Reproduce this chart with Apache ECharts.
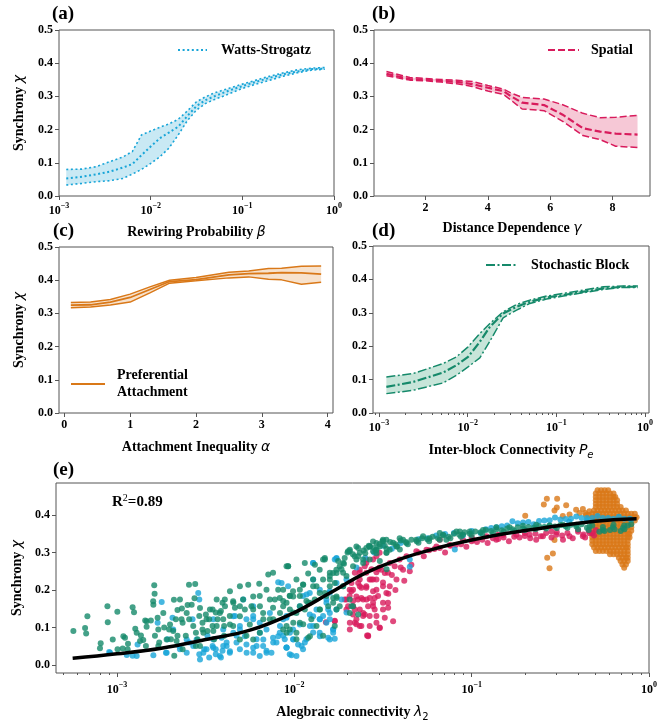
<!DOCTYPE html>
<html><head><meta charset="utf-8">
<script src="https://cdn.jsdelivr.net/npm/echarts@6/dist/echarts.min.js"></script>
<style>html,body{margin:0;padding:0;background:#fff}#c{width:667px;height:723px}</style>
</head><body><div id="c"></div>
<script>
// ================= DATA =================
// (a) Watts-Strogatz: rewiring probability beta vs synchrony
const wsBeta  = [0.00120,0.00178,0.00251,0.00355,0.00501,0.00631,0.00794,0.0100,0.0126,0.0158,0.0200,0.0251,0.0316,0.0398,0.0501,0.0708,0.100,0.141,0.200,0.282,0.398,0.562,0.794];
const wsMean  = [0.053,0.058,0.065,0.073,0.086,0.096,0.123,0.149,0.174,0.191,0.209,0.241,0.271,0.289,0.301,0.317,0.331,0.344,0.356,0.367,0.375,0.382,0.384];
const wsUpper = [0.080,0.081,0.088,0.103,0.118,0.134,0.184,0.196,0.207,0.217,0.231,0.256,0.284,0.299,0.311,0.324,0.337,0.349,0.361,0.371,0.380,0.385,0.387];
const wsLower = [0.033,0.038,0.043,0.046,0.053,0.066,0.080,0.098,0.118,0.144,0.184,0.227,0.259,0.279,0.291,0.307,0.324,0.337,0.349,0.361,0.371,0.379,0.382];

// (b) Spatial: distance dependence gamma
const spGamma = [0.75,1.5,2.0,2.5,3.0,3.5,4.0,4.5,4.75,5.1,5.8,6.4,7.05,7.6,8.1,8.8];
const spMean  = [0.368,0.352,0.350,0.347,0.344,0.337,0.326,0.316,0.300,0.281,0.274,0.245,0.204,0.194,0.188,0.185];
const spUpper = [0.375,0.357,0.354,0.351,0.349,0.345,0.333,0.322,0.310,0.297,0.292,0.275,0.249,0.236,0.237,0.243];
const spLower = [0.362,0.349,0.347,0.343,0.338,0.330,0.316,0.306,0.288,0.262,0.257,0.225,0.182,0.170,0.150,0.146];

// (c) Preferential attachment: attachment inequality alpha
const paAlpha = [0.1,0.4,0.7,1.0,1.3,1.6,2.0,2.5,2.8,3.1,3.3,3.6,3.9];
const paMean  = [0.325,0.326,0.334,0.348,0.372,0.396,0.402,0.416,0.420,0.421,0.423,0.422,0.418];
const paUpper = [0.333,0.334,0.342,0.358,0.380,0.400,0.408,0.424,0.428,0.435,0.436,0.442,0.443];
const paLower = [0.317,0.319,0.325,0.334,0.362,0.391,0.398,0.407,0.410,0.403,0.401,0.388,0.394];

// (d) Stochastic block: inter-block connectivity Pe
const sbPe    = [0.00121,0.00242,0.00528,0.00746,0.0101,0.0137,0.0178,0.0251,0.0356,0.0502,0.0774,0.120,0.201,0.338,0.569,0.832];
const sbMean  = [0.078,0.093,0.121,0.143,0.168,0.213,0.258,0.298,0.318,0.333,0.346,0.353,0.363,0.373,0.378,0.378];
const sbUpper = [0.108,0.118,0.148,0.168,0.198,0.238,0.268,0.303,0.325,0.338,0.350,0.358,0.368,0.378,0.380,0.380];
const sbLower = [0.058,0.068,0.090,0.113,0.138,0.165,0.215,0.285,0.308,0.328,0.341,0.350,0.360,0.370,0.376,0.376];

// (e) scatter points: [log10(lambda2), chi]
const wsPts = [[-3.039,0.033],[-2.945,0.027],[-2.889,0.024],[-2.795,0.026],[-2.748,0.168],[-2.720,0.033],[-2.645,0.042],[-2.607,0.068],[-2.570,0.051],[-2.532,0.015],[-2.495,0.042],[-2.457,0.068],[-2.420,0.024],[-2.382,0.051],[-2.344,0.086],[-2.307,0.104],[-2.269,0.033],[-2.232,0.122],[-2.213,0.051],[-2.194,0.086],[-2.157,0.033],[-2.119,0.060],[-2.081,0.104],[-2.044,0.046],[-2.016,0.026],[-2.006,0.068],[-1.969,0.108],[-1.931,0.188],[-1.894,0.228],[-1.894,0.130],[-1.856,0.077],[-1.819,0.175],[-1.800,0.068],[-1.772,0.281],[-1.762,0.219],[-2.542,0.192],[-2.288,0.175],
 [-2.401,0.051],[-2.364,0.033],[-2.307,0.042],[-2.232,0.033],[-2.176,0.051],[-2.120,0.073],[-2.044,0.047],[-2.026,0.029],[-1.951,0.042],[-2.270,0.122],[-2.195,0.113],[-2.091,0.221],[-2.035,0.210],[-1.894,0.272],[-1.800,0.197],[-1.781,0.095],[-1.772,0.070],[-1.838,0.131],[-1.875,0.148],[-1.951,0.184],[-1.763,0.284],[-2.082,0.086],[-2.157,0.095],[-2.307,0.095],[-2.007,0.069],[-1.857,0.086],[-1.819,0.113],
 [-2.536,0.175],[-2.771,0.113],[-2.884,0.055],[-2.912,0.025],[-3.044,0.035],[-2.724,0.033],[-2.574,0.122],[-2.687,0.126],[-2.715,0.069],[-2.593,0.060],[-2.490,0.078],[-2.649,0.051],[-2.508,0.042],[-2.443,0.042],[-2.414,0.020],
 [-2.382,0.060],[-2.326,0.078],[-2.270,0.055],[-2.213,0.069],[-2.157,0.038],[-2.101,0.060],[-2.063,0.078],[-1.979,0.055],[-1.932,0.069],[-1.894,0.104],[-1.857,0.122],[-1.800,0.139],[-2.044,0.131],[-2.138,0.139],[-2.232,0.131],[-2.335,0.131],[-2.401,0.095],[-2.195,0.024],[-1.988,0.024],[-1.763,0.148],[-1.819,0.166],[-1.913,0.192],
 [-2.607,0.033],[-2.551,0.068],[-2.513,0.033],[-2.457,0.046],[-2.410,0.073],[-2.363,0.037],[-2.326,0.060],[-2.279,0.077],[-2.232,0.046],[-2.175,0.068],[-2.129,0.033],[-2.091,0.077],[-2.063,0.122],[-2.025,0.086],[-1.959,0.051],[-1.912,0.104],[-1.856,0.122],[-1.809,0.148],[-1.781,0.086],[-2.344,0.130],[-2.232,0.157],[-2.457,0.122],[-2.683,0.095],
 [-2.536,0.029],[-2.480,0.020],[-2.443,0.029],[-2.405,0.038],[-2.461,0.051],
 [-2.072,0.219],[-1.894,0.272],[-1.762,0.285],[-1.856,0.201],[-1.800,0.193],[-1.734,0.175],[-1.969,0.157],[-2.044,0.126],[-1.913,0.135],[-1.800,0.122],[-2.007,0.095],[-1.894,0.087],[-1.781,0.095],[-2.054,0.069],[-1.941,0.060],[-1.809,0.073],[-2.044,0.047],[-1.706,0.140],
 [-1.706,0.228],[-1.65,0.260],[-1.60,0.285],[-1.55,0.300],[-1.45,0.310],[-1.349,0.262],[-1.349,0.281],[-1.095,0.308],[-1.40,0.325],[-1.50,0.318],
 [-1.30,0.335],[-1.20,0.345],[-1.10,0.352],[-1.00,0.357],[-0.92,0.362],[-0.86,0.367],[-0.80,0.372],[-0.74,0.378],[-0.68,0.381],[-0.62,0.384],[-0.56,0.386],[-0.50,0.388],[-0.44,0.390],[-0.38,0.392],[-0.32,0.392],[-0.26,0.392],[-0.20,0.390],[-0.14,0.390],[-0.10,0.388],[-1.05,0.345],[-0.95,0.352],[-0.65,0.375],[-0.45,0.382],[-0.35,0.385],[-0.77,0.383],[-0.53,0.393],[-0.41,0.396],[-0.29,0.397],[-0.17,0.395],
 [-1.25,0.338],[-1.15,0.349],[-0.89,0.365],[-0.83,0.370],[-0.71,0.380],[-0.59,0.385],[-0.47,0.389],[-0.35,0.392],[-0.23,0.392],[-0.11,0.390]];

const sbPts = [[-3.246,0.091],[-3.180,0.099],[-3.174,0.084],[-3.167,0.130],[-3.092,0.058],[-3.096,0.045],[-3.054,0.157],[-3.052,0.114],[-3.024,0.068],[-2.998,0.142],[-2.968,0.044],[-2.964,0.077],[-2.912,0.154],[-2.904,0.141],[-2.889,0.086],[-2.870,0.064],[-2.833,0.117],[-2.795,0.161],[-2.790,0.213],[-2.767,0.095],[-2.739,0.139],[-2.720,0.068],[-2.701,0.108],[-2.664,0.064],[-2.645,0.175],[-2.607,0.139],[-2.594,0.214],[-2.570,0.104],[-2.532,0.152],[-2.495,0.122],[-2.457,0.091],[-2.438,0.175],[-2.420,0.139],[-2.363,0.108],[-2.344,0.166],[-2.307,0.130],[-2.260,0.214],[-2.232,0.068],[-2.194,0.157],[-2.157,0.201],[-2.147,0.241],[-2.119,0.122],[-2.081,0.139],[-2.035,0.263],[-2.006,0.113],[-1.969,0.157],[-1.950,0.214],[-1.912,0.077],[-1.884,0.267],[-1.856,0.148],[-1.828,0.285],[-1.809,0.157],[-1.781,0.245],[-1.762,0.179],[-1.772,0.104],[-2.532,0.051],[-2.307,0.068],[-2.044,0.086],[-2.006,0.183],
 [-2.897,0.097],[-2.841,0.119],[-2.809,0.119],[-2.788,0.190],[-2.796,0.170],[-2.865,0.079],[-2.852,0.067],[-2.833,0.102],[-2.786,0.078],[-2.771,0.126],[-2.734,0.100],[-2.706,0.095],[-2.679,0.174],[-2.659,0.147],[-2.634,0.151],[-2.602,0.160],[-2.559,0.216],[-2.563,0.178],[-2.668,0.122],[-2.630,0.113],[-2.593,0.122],[-2.536,0.131],[-2.518,0.113],[-2.480,0.122],[-2.443,0.140],[-2.405,0.166],[-2.461,0.148],[-2.659,0.078],[-2.696,0.069],[-2.612,0.078],[-2.555,0.086],[-2.490,0.091],[-2.762,0.060],[-2.940,0.042],[-2.997,0.042],[-2.837,0.051],[-2.677,0.025],[-2.555,0.051],[-2.630,0.042],
 [-2.955,0.073],[-2.938,0.057],[-2.518,0.095],[-2.499,0.135],[-2.461,0.104],[-2.433,0.122],[-2.414,0.144],[-2.396,0.104],[-2.546,0.069],[-2.452,0.069],[-2.396,0.078],
 [-2.683,0.091],[-2.636,0.122],[-2.579,0.161],[-2.513,0.086],[-2.476,0.148],[-2.391,0.157],[-2.363,0.197],[-2.279,0.148],[-2.232,0.183],[-2.175,0.122],[-2.110,0.175],[-2.063,0.201],[-2.025,0.148],[-1.988,0.228],[-1.922,0.166],[-1.875,0.210],[-1.828,0.192],[-1.800,0.228],[-2.307,0.210],[-2.438,0.104],[-2.767,0.051],
 [-2.198,0.217],[-2.120,0.246],[-2.035,0.263],[-2.091,0.201],[-2.026,0.185],[-1.922,0.244],[-1.951,0.215],[-1.857,0.254],[-1.828,0.281],[-1.800,0.237],[-1.763,0.254],[-1.725,0.246],[-1.688,0.303],[-1.631,0.299],[-1.594,0.312],[-1.556,0.303],[-1.519,0.316],[-1.504,0.330],[-1.669,0.263],[-1.612,0.272],[-1.725,0.210],[-1.669,0.157],[-2.345,0.170],[-2.307,0.157],[-2.232,0.148],[-2.138,0.175],[-2.063,0.157],[-1.988,0.139],[-1.969,0.113],[-1.913,0.166],[-1.857,0.192],[-1.800,0.210],[-1.922,0.073],[-2.026,0.095],[-2.138,0.122],[-2.270,0.078],[-2.364,0.131],[-2.401,0.122],[-1.781,0.179],[-1.744,0.157],[-1.688,0.175],
 [-2.392,0.175],[-2.335,0.153],[-2.289,0.175],[-2.242,0.157],[-2.195,0.184],[-2.176,0.139],[-2.120,0.153],[-2.082,0.179],[-2.044,0.166],[-2.007,0.197],[-1.969,0.184],[-1.941,0.148],[-1.894,0.210],[-1.885,0.175],[-1.838,0.228],[-1.819,0.184],[-1.772,0.219],[-1.744,0.263],[-1.716,0.285],[-1.706,0.237],[-1.650,0.281],[-1.575,0.316],[-1.537,0.325],[-1.481,0.334],[-1.481,0.299],[-1.575,0.281],[-2.345,0.104],[-2.251,0.108],[-2.195,0.086],[-2.044,0.104],[-1.988,0.086],[-1.904,0.122],
 [-2.044,0.263],[-1.941,0.272],[-1.838,0.281],[-1.753,0.277],[-1.697,0.303],[-1.640,0.290],[-1.575,0.316],[-1.537,0.308],[-1.734,0.255],[-1.800,0.246],[-1.894,0.228],[-1.969,0.201],[-2.025,0.184],[-2.063,0.171],[-1.932,0.171],[-1.857,0.148],[-1.781,0.166],[-2.006,0.140],[-1.950,0.109],[-2.063,0.095],[-1.875,0.104],[-1.838,0.078],[-1.988,0.069],[-1.640,0.135],[-1.678,0.157],
 [-1.762,0.245],[-1.687,0.307],[-1.650,0.316],[-1.575,0.316],[-1.500,0.334],[-1.462,0.307],[-1.424,0.316],[-1.368,0.325],[-1.312,0.334],[-1.237,0.338],[-1.162,0.347],[-1.086,0.356],[-1.011,0.356],[-0.936,0.360],[-0.861,0.367],[-0.786,0.367],[-0.711,0.371],[-0.636,0.374],[-0.561,0.371],[-0.486,0.374],[-0.410,0.374],[-0.335,0.369],[-0.260,0.360],[-0.204,0.367],[-0.147,0.365],[-1.725,0.272],[-1.537,0.298],[-1.612,0.281],[-1.762,0.183],[-1.725,0.210],[-1.687,0.139],[-1.762,0.148],[-1.143,0.334],[-1.049,0.347],[-1.556,0.329],[-1.406,0.338],
 [-1.499,0.330],[-1.443,0.326],[-1.387,0.334],[-1.274,0.343],[-1.180,0.352],[-1.067,0.356],[-1.48,0.299],[-1.405,0.308],[-1.518,0.277],[-1.48,0.255],
 [-1.70,0.300],[-1.64,0.312],[-1.58,0.318],[-1.52,0.322],[-1.46,0.328],[-1.40,0.332],[-1.34,0.334],[-1.28,0.338],[-1.22,0.342],[-1.16,0.346],[-1.10,0.350],[-1.04,0.354],[-0.98,0.356],[-0.92,0.360],[-0.86,0.362],[-0.80,0.364],[-0.74,0.367],[-0.68,0.368],[-0.62,0.370],[-0.56,0.372],[-0.50,0.373],[-0.44,0.374],[-0.38,0.375],[-0.32,0.372],[-0.26,0.368],[-0.20,0.374],[-0.14,0.372],[-0.10,0.375],
 [-1.72,0.270],[-1.66,0.290],[-1.60,0.298],[-1.54,0.305],[-1.48,0.310],[-1.42,0.316],[-1.36,0.322],[-1.30,0.326],[-1.24,0.330],[-1.18,0.334],[-1.12,0.338],[-1.06,0.342],[-1.00,0.346],[-0.94,0.350],[-0.88,0.352],[-0.82,0.355],[-0.76,0.357],[-0.70,0.360],[-0.64,0.362],[-0.58,0.364],[-0.52,0.365],[-0.46,0.366],[-0.40,0.362],[-0.34,0.360],[-0.28,0.355],[-0.22,0.360],[-0.16,0.357],
 [-1.67,0.295],[-1.61,0.305],[-1.55,0.312],[-1.49,0.318],[-1.43,0.322],[-1.37,0.328],[-1.31,0.330],[-1.25,0.335],[-1.19,0.338],[-1.13,0.342],[-1.07,0.347],[-1.01,0.350],[-0.95,0.354],[-0.89,0.357],[-0.83,0.359],[-0.77,0.362],[-0.71,0.364],[-0.65,0.366],[-0.59,0.368],[-0.53,0.369],[-0.47,0.370],[-0.41,0.369],[-0.35,0.366],
 [-0.251,0.357],[-0.194,0.362],[-0.138,0.362],[-0.12,0.372]];

const spPts = [[-1.716,0.175],[-1.688,0.184],[-1.669,0.201],[-1.650,0.122],[-1.631,0.148],[-1.612,0.175],[-1.594,0.210],[-1.584,0.079],[-1.575,0.131],[-1.556,0.166],[-1.537,0.228],[-1.537,0.290],[-1.519,0.100],[-1.500,0.148],[-1.481,0.192],[-1.472,0.246],[-1.706,0.148],[-1.659,0.246],[-1.631,0.104],[-1.594,0.272],[-1.772,0.117],[-1.678,0.219],[-1.556,0.197],[-1.822,0.114],
 [-1.687,0.113],[-1.669,0.157],[-1.650,0.183],[-1.631,0.210],[-1.612,0.139],[-1.593,0.175],[-1.584,0.077],[-1.575,0.228],[-1.556,0.157],[-1.537,0.201],[-1.518,0.099],[-1.500,0.166],[-1.490,0.245],[-1.471,0.153],[-1.462,0.210],[-1.443,0.117],[-1.434,0.263],[-1.424,0.228],[-1.406,0.281],[-1.387,0.254],[-1.368,0.290],[-1.340,0.267],[-1.312,0.303],[-1.255,0.307],[-1.199,0.316],[-1.124,0.320],[-1.049,0.334],[-0.992,0.334],[-0.917,0.343],[-0.823,0.347],[-0.748,0.347],[-0.673,0.347],[-0.598,0.343],[-0.523,0.347],[-0.448,0.343],[-0.373,0.343],[-0.335,0.351],[-1.631,0.254],[-1.537,0.247],[-1.593,0.281],[-1.462,0.272],[-1.349,0.250],[-1.180,0.334],[-0.861,0.334],[-0.636,0.334],[-0.485,0.334],
 [-1.697,0.157],[-1.669,0.135],[-1.641,0.175],[-1.622,0.206],[-1.603,0.135],[-1.575,0.179],[-1.566,0.228],[-1.547,0.148],[-1.528,0.184],[-1.509,0.254],[-1.500,0.210],[-1.490,0.126],[-1.472,0.166],[-1.631,0.228],[-1.594,0.246],[-1.556,0.281],[-1.519,0.299],[-1.688,0.201],[-1.659,0.113],[-1.622,0.104],[-1.537,0.113],
 [-1.706,0.175],[-1.678,0.197],[-1.659,0.148],[-1.631,0.246],[-1.622,0.179],[-1.612,0.131],[-1.594,0.206],[-1.584,0.157],[-1.575,0.104],[-1.556,0.228],[-1.547,0.179],[-1.537,0.131],[-1.528,0.255],[-1.650,0.109],[-1.687,0.095],[-1.590,0.079],[-1.772,0.118],[-1.603,0.263],[-1.565,0.255],[-1.640,0.219],[-1.669,0.171],
 [-1.30,0.300],[-1.24,0.306],[-1.18,0.312],[-1.12,0.318],[-1.06,0.322],[-1.00,0.330],[-0.94,0.334],[-0.88,0.338],[-0.82,0.340],[-0.76,0.342],[-0.70,0.344],[-0.64,0.350],[-0.58,0.352],[-0.52,0.354],[-0.46,0.352],[-0.40,0.355],[-0.34,0.357],[-1.27,0.290],[-1.15,0.300],[-1.03,0.315],[-0.91,0.325],[-0.79,0.330],[-0.67,0.338],[-0.55,0.340],[-0.43,0.338],[-0.36,0.340],[-1.00,0.340],[-0.85,0.347],[-0.70,0.352],[-0.55,0.356],[-0.40,0.360],[-0.31,0.345],[-0.30,0.360],
 [-1.21,0.309],[-1.09,0.320],[-0.97,0.328],[-0.85,0.336],[-0.73,0.340],[-0.61,0.343],[-0.49,0.345],[-0.37,0.348],[-0.32,0.352],
 [-1.50,0.220],[-1.45,0.240],[-1.40,0.260],[-1.47,0.190],[-1.43,0.200],[-1.52,0.260],[-1.38,0.225]];

// Preferential attachment: scattered points plus the dense cluster (rows of [chi, log10 lambda2 list])
const paLoose = [[-0.576,0.443],[-0.518,0.443],[-0.593,0.428],[-0.520,0.420],[-0.533,0.412],[-0.467,0.426],[-0.698,0.398],[-0.542,0.297],[-0.574,0.286],[-0.561,0.258],[-0.533,0.333],
 [-0.486,0.397],[-0.448,0.401],[-0.411,0.414],[-0.373,0.416],[-0.336,0.410],[-0.392,0.405],[-0.355,0.400],[-0.36,0.405],[-0.34,0.400]];
const paClusterRows = [
 [0.466,[-0.29,-0.27,-0.25,-0.23]],
 [0.457,[-0.30,-0.28,-0.26,-0.24,-0.22,-0.20]],
 [0.448,[-0.30,-0.28,-0.26,-0.24,-0.22,-0.20,-0.19]],
 [0.439,[-0.30,-0.28,-0.26,-0.24,-0.22,-0.20,-0.18]],
 [0.430,[-0.30,-0.28,-0.26,-0.24,-0.22,-0.20,-0.18]],
 [0.421,[-0.30,-0.28,-0.26,-0.24,-0.22,-0.20,-0.18,-0.16]],
 [0.412,[-0.31,-0.29,-0.27,-0.25,-0.23,-0.21,-0.19,-0.17,-0.15,-0.13]],
 [0.403,[-0.32,-0.30,-0.28,-0.26,-0.24,-0.22,-0.20,-0.18,-0.16,-0.14,-0.12,-0.10,-0.08]],
 [0.394,[-0.32,-0.30,-0.28,-0.26,-0.24,-0.22,-0.20,-0.18,-0.16,-0.14,-0.12,-0.10,-0.08,-0.07]],
 [0.385,[-0.32,-0.30,-0.28,-0.26,-0.24,-0.22,-0.20,-0.18,-0.16,-0.14,-0.12,-0.10,-0.08]],
 [0.376,[-0.32,-0.30,-0.28,-0.26,-0.24,-0.22,-0.20,-0.18,-0.16,-0.14,-0.12,-0.10]],
 [0.367,[-0.32,-0.30,-0.28,-0.26,-0.24,-0.22,-0.20,-0.18,-0.16,-0.14,-0.12,-0.10]],
 [0.358,[-0.32,-0.30,-0.28,-0.26,-0.24,-0.22,-0.20,-0.18,-0.16,-0.14,-0.12,-0.10]],
 [0.349,[-0.32,-0.30,-0.28,-0.26,-0.24,-0.22,-0.20,-0.18,-0.16,-0.14,-0.12,-0.11]],
 [0.340,[-0.32,-0.30,-0.28,-0.26,-0.24,-0.22,-0.20,-0.18,-0.16,-0.14,-0.12,-0.11]],
 [0.331,[-0.32,-0.30,-0.28,-0.26,-0.24,-0.22,-0.20,-0.18,-0.16,-0.14,-0.12]],
 [0.322,[-0.32,-0.30,-0.28,-0.26,-0.24,-0.22,-0.20,-0.18,-0.16,-0.14,-0.12]],
 [0.313,[-0.31,-0.29,-0.27,-0.25,-0.23,-0.21,-0.19,-0.17,-0.15,-0.13,-0.12]],
 [0.304,[-0.30,-0.28,-0.26,-0.24,-0.22,-0.20,-0.18,-0.16,-0.14,-0.12]],
 [0.295,[-0.22,-0.20,-0.18,-0.16,-0.14,-0.12]],
 [0.286,[-0.17,-0.15,-0.13,-0.12]],
 [0.277,[-0.16,-0.14,-0.12]],
 [0.268,[-0.15,-0.13]],
 [0.259,[-0.14]]
];
const paPts = paLoose.concat(paClusterRows.flatMap(r => r[1].map(l => [l, r[0]])));

// fitted curve [log10(lambda2), chi]
const fitCurve = [[-3.25,0.018],[-3.0,0.030],[-2.75,0.045],[-2.5,0.068],[-2.25,0.093],[-2.0,0.140],[-1.8,0.192],[-1.6,0.245],[-1.4,0.283],[-1.2,0.311],[-1.0,0.333],[-0.8,0.351],[-0.6,0.365],[-0.4,0.378],[-0.2,0.387],[-0.07,0.390]];
const r2Text = '0.89';

const logTicks = [-3,-2,-1,0];
const yTickVals = [0,0.1,0.2,0.3,0.4];

// ================= STYLE =================
const FONT = 'Liberation Serif';
const COL = {ws:'#18a5d8', sp:'#d81b5c', pa:'#d97818', sb:'#15896a'};
const FILL = {ws:'#c9e9f4', sp:'#f6c8d6', pa:'#f7e2cd', sb:'#c7e5d9'};
const AX = '#555';

const lblStyle = {fontFamily:FONT, fontWeight:'bold', fontSize:12, color:'#000'};
const logRich = {
  b:{fontFamily:FONT, fontWeight:'bold', fontSize:12, lineHeight:18, color:'#000'},
  s:{fontFamily:FONT, fontWeight:'bold', fontSize:8, lineHeight:9, verticalAlign:'top', color:'#000'}
};
const nameRich = {
  t:{fontFamily:FONT, fontWeight:'bold', fontSize:14, lineHeight:20, color:'#000'},
  m:{fontFamily:'DejaVu Sans', fontStyle:'italic', fontSize:14, lineHeight:20, color:'#000'},
  sub:{fontFamily:'DejaVu Sans', fontStyle:'italic', fontSize:10, lineHeight:14, verticalAlign:'bottom', color:'#000'},
  subn:{fontFamily:'DejaVu Sans', fontSize:10, lineHeight:14, verticalAlign:'bottom', color:'#000'}
};
function logFmt(v){ const e=Math.round(v); return '{b|10}{s|'+(e<0?'\u2212'+(-e):e)+'}'; }

const grids = [
  {left:59, top:30, width:275, height:166},
  {left:374, top:30, width:276, height:166},
  {left:59, top:247, width:274, height:166},
  {left:373, top:246, width:276, height:167},
  {left:56, top:483, width:593, height:191}
].map(g=>Object.assign(g,{show:true, borderColor:AX, borderWidth:1, backgroundColor:'transparent', containLabel:false}));

function xAx(gi, min, max, ticks, opts){
  return Object.assign({
    type:'value', gridIndex:gi, min:min, max:max,
    axisLine:{show:false, onZero:false},
    axisTick:{show:true, inside:false, length:4, lineStyle:{color:AX}, customValues:ticks},
    axisLabel:Object.assign({customValues:ticks, margin:6}, lblStyle),
    splitLine:{show:false}, nameLocation:'middle', nameTextStyle:{rich:nameRich}
  }, opts);
}
function minorVals(min,max){
  const out=[]; for(let k=-4;k<=0;k++){ for(let m=2;m<=9;m++){ const v=k+Math.log10(m); if(v>min && v<max) out.push(v);} } return out;
}
function minorAx(gi,min,max){
  return {type:'value', gridIndex:gi, min:min, max:max, position:'bottom',
    axisLine:{show:false, onZero:false}, axisLabel:{show:false}, splitLine:{show:false},
    axisTick:{show:true, inside:false, length:2, lineStyle:{color:AX}, customValues:minorVals(min,max)}};
}
function yAx(gi, min, max, ticks, opts){
  return Object.assign({
    type:'value', gridIndex:gi, min:min, max:max,
    axisLine:{show:false, onZero:false},
    axisTick:{show:true, inside:false, length:4, lineStyle:{color:AX}, customValues:ticks},
    axisLabel:Object.assign({customValues:ticks, margin:6, formatter:v=>v.toFixed(1)}, lblStyle),
    splitLine:{show:false}, nameLocation:'middle', nameTextStyle:{rich:nameRich}
  }, opts);
}
const yName = '{t|Synchrony }{m|\u03c7}';

const xAxes = [
  xAx(0, -3, 0, logTicks, {axisLabel:{customValues:logTicks, margin:6, formatter:logFmt, rich:logRich}, name:'{t|Rewiring Probability }{m|\u03b2}', nameGap:26}),
  xAx(1, 0.35, 9.2, [2,4,6,8], {name:'{t|Distance Dependence }{m|\u03b3}', nameGap:22}),
  xAx(2, -0.08, 4.08, [0,1,2,3,4], {name:'{t|Attachment Inequality }{m|\u03b1}', nameGap:24}),
  xAx(3, -3.068, 0.045, logTicks, {axisLabel:{customValues:logTicks, margin:6, formatter:logFmt, rich:logRich}, name:'{t|Inter-block Connectivity }{m|P}{sub|e}', nameGap:27}),
  xAx(4, -3.344, 0, logTicks, {axisLabel:{customValues:logTicks, margin:8, formatter:logFmt, rich:logRich}, name:'{t|Alegbraic connectivity }{m|\u03bb}{subn|2}', nameGap:29}),
  minorAx(3, -3.068, 0.045),
  minorAx(4, -3.344, 0)
];
const yTicks5 = [0,0.1,0.2,0.3,0.4,0.5];
const yAxes = [
  yAx(0, 0, 0.5, yTicks5, {name:yName, nameGap:30}),
  yAx(1, 0, 0.5, yTicks5, {}),
  yAx(2, 0, 0.5, yTicks5, {name:yName, nameGap:30}),
  yAx(3, 0, 0.5, yTicks5, {}),
  yAx(4, -0.021, 0.485, yTickVals, {name:yName, nameGap:28})
];

function pairs(xs, ys, logx){ return xs.map((x,i)=>[logx?Math.log10(x):x, ys[i]]); }
function band(idx, xs, mean, up, lo, logx, key, name, dash, wMean, wEdge){
  const base = {type:'line', xAxisIndex:idx, yAxisIndex:idx, symbol:'none', silent:true, animation:false};
  const upP = pairs(xs, up, logx), loP = pairs(xs, lo, logx);
  return [
    {type:'custom', xAxisIndex:idx, yAxisIndex:idx, silent:true, z:1, animation:false, data:upP,
     renderItem:(params, api)=>{
       if (params.dataIndex !== 0) return null;
       const pts = upP.map(p=>api.coord(p)).concat(loP.slice().reverse().map(p=>api.coord(p)));
       return {type:'polygon', shape:{points:pts}, style:{fill:FILL[key]}};
     }},
    Object.assign({}, base, {name:'_u'+idx, data:upP, lineStyle:{color:COL[key], width:wEdge, type:dash}, z:3}),
    Object.assign({}, base, {name:'_l'+idx, data:loP, lineStyle:{color:COL[key], width:wEdge, type:dash}, z:3}),
    Object.assign({}, base, {name:name, data:pairs(xs, mean, logx), lineStyle:{color:COL[key], width:wMean, type:dash}, itemStyle:{color:COL[key]}, z:4})
  ];
}
const DOT = [2,2.6], DASH = [7,3], DASHDOT = [9,2.5,2,2.5];
const scat = (pts, key) => ({type:'scatter', xAxisIndex:4, yAxisIndex:4, data:pts, symbolSize:6, itemStyle:{color:COL[key]}, silent:true, animation:false});

const series = [].concat(
  band(0, wsBeta, wsMean, wsUpper, wsLower, true, 'ws', 'Watts-Strogatz', DOT, 2, 1.6),
  band(1, spGamma, spMean, spUpper, spLower, false, 'sp', 'Spatial', DASH, 2.2, 1.5),
  band(2, paAlpha, paMean, paUpper, paLower, false, 'pa', 'Preferential Attachment', 'solid', 1.8, 1.5),
  band(3, sbPe, sbMean, sbUpper, sbLower, true, 'sb', 'Stochastic Block', DASHDOT, 2.2, 1.5),
  [scat(paPts,'pa'), scat(spPts,'sp'), scat(wsPts,'ws'), scat(sbPts,'sb'),
   {type:'line', xAxisIndex:4, yAxisIndex:4, data:fitCurve, smooth:0.4, symbol:'none', lineStyle:{color:'#000', width:3.5}, z:6, silent:true, animation:false}]
);

const legTxt = {fontFamily:FONT, fontWeight:'bold', fontSize:14, color:'#000'};
const legends = [
  {data:['Watts-Strogatz'], left:177, top:43, itemWidth:29, itemHeight:14, textStyle:Object.assign({padding:[0,0,0,9]}, legTxt)},
  {data:['Spatial'], left:547, top:43, itemWidth:31, itemHeight:14, textStyle:Object.assign({padding:[0,0,0,7]}, legTxt)},
  {data:['Preferential Attachment'], left:70, top:367, itemWidth:34, itemHeight:14, formatter:()=> 'Preferential\nAttachment', textStyle:Object.assign({padding:[0,0,0,7], lineHeight:17}, legTxt)},
  {data:['Stochastic Block'], left:485, top:258, itemWidth:32, itemHeight:14, textStyle:Object.assign({padding:[0,0,0,8]}, legTxt)}
].map(l=>Object.assign(l,{selectedMode:false, orient:'horizontal', padding:0, itemStyle:{opacity:0}}));

const panelLbl = (t,x,y)=>({type:'text', left:x, top:y, style:{text:t, font:'bold 19px "Liberation Serif"', fill:'#000'}});

const option = {
  animation:false,
  backgroundColor:'#fff',
  grid:grids, xAxis:xAxes, yAxis:yAxes, series:series, legend:legends,
  graphic:[
    panelLbl('(a)',52,5), panelLbl('(b)',372,5), panelLbl('(c)',53,222), panelLbl('(d)',372,222), panelLbl('(e)',53,461),
    {type:'text', left:112, top:493, style:{text:'{a|R}{s|2}{a|=' + r2Text + '}', rich:{
      a:{fontFamily:FONT, fontWeight:'bold', fontSize:15, lineHeight:18, fill:'#000'},
      s:{fontFamily:FONT, fontSize:10, lineHeight:10, verticalAlign:'top', fill:'#000'}}}}
  ]
};
const chart = echarts.init(document.getElementById('c'), null, {renderer:'canvas'});
chart.setOption(option);
</script></body></html>
